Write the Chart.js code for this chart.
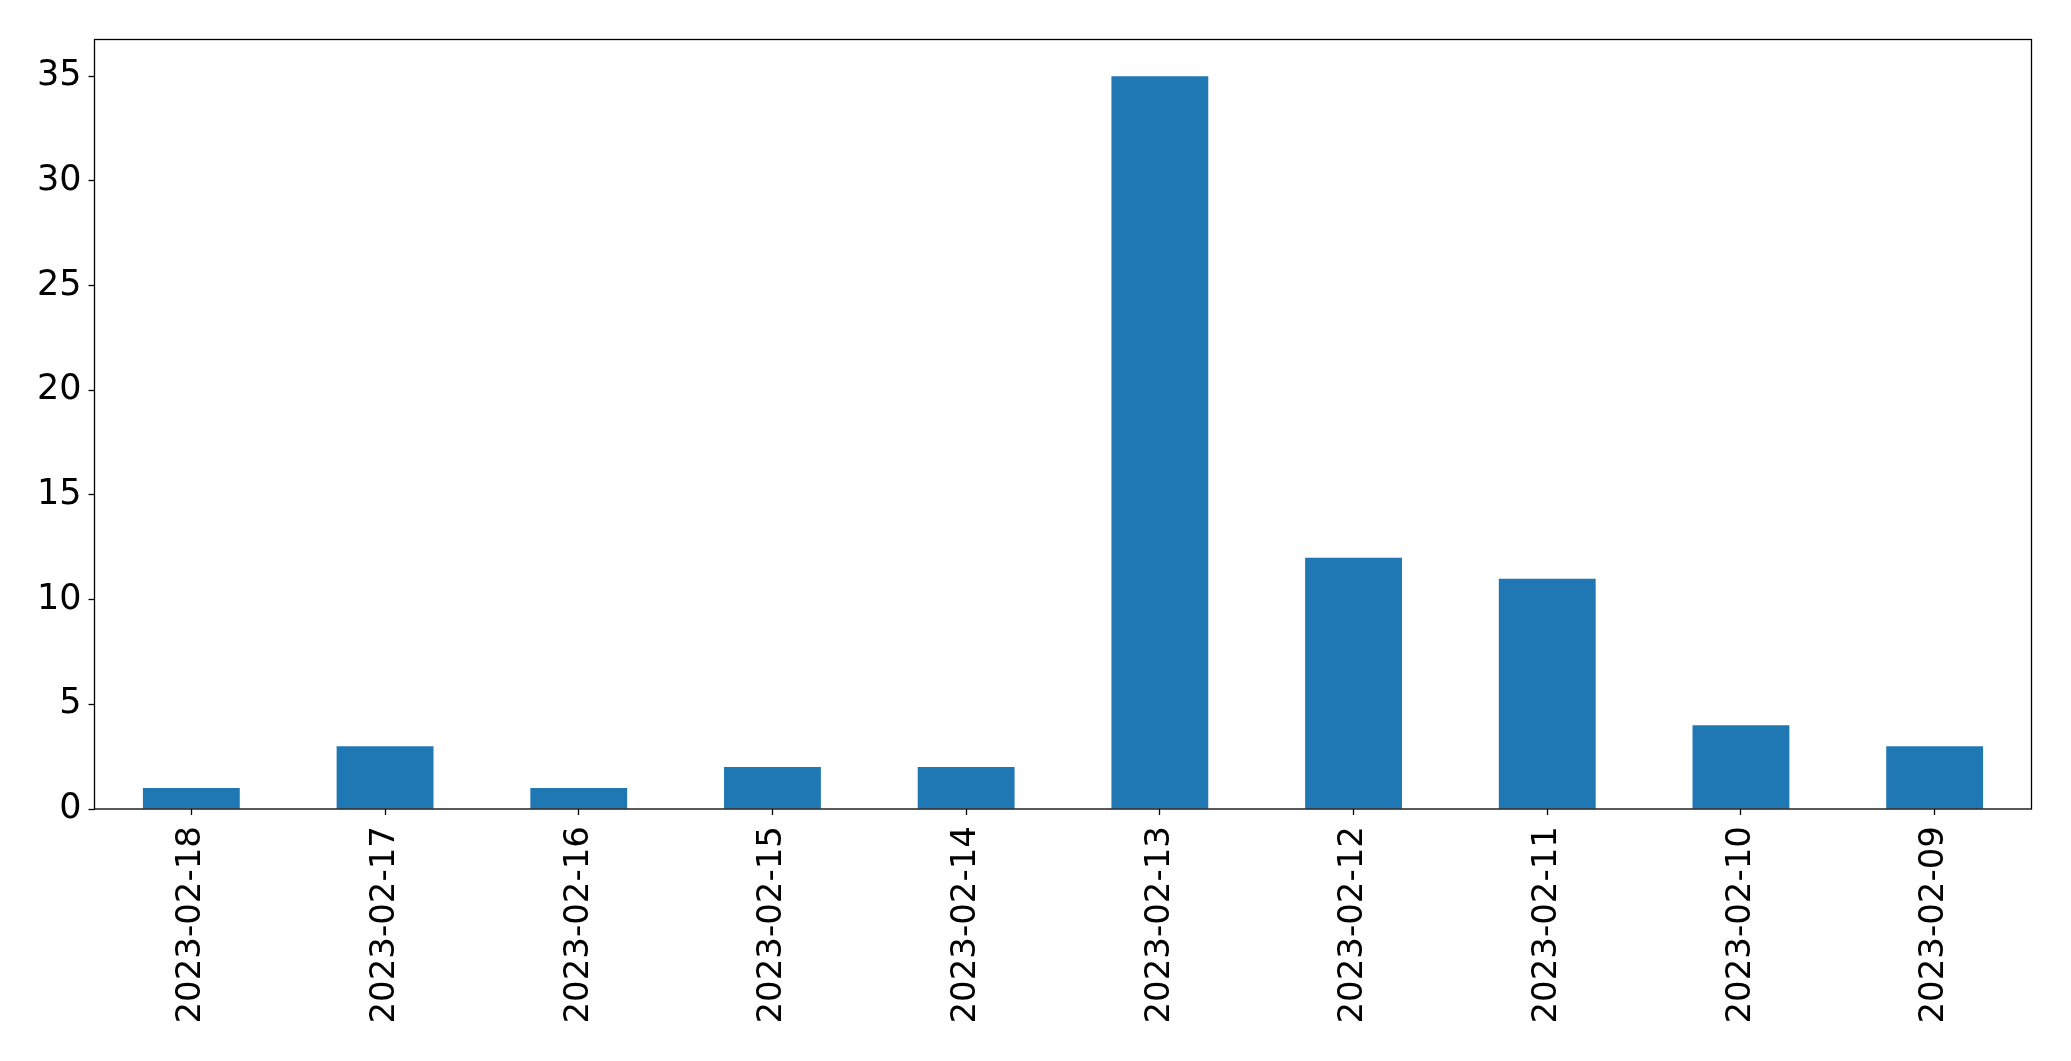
<!DOCTYPE html>
<html>
<head>
<meta charset="utf-8">
<script src="https://cdn.jsdelivr.net/npm/chart.js@4/dist/chart.umd.min.js"></script>
<style>
  html, body { margin: 0; padding: 0; background: #fff; }
  canvas { display: block; }
</style>
</head>
<body>
<canvas id="chart-area" width="2071" height="1061"></canvas>
<script>
"use strict";

const DATES = [
  "2023-02-18",
  "2023-02-17",
  "2023-02-16",
  "2023-02-15",
  "2023-02-14",
  "2023-02-13",
  "2023-02-12",
  "2023-02-11",
  "2023-02-10",
  "2023-02-09"
];

const COUNTS = [1, 3, 1, 2, 2, 35, 12, 11, 4, 3];

const Y_TICKS = [0, 5, 10, 15, 20, 25, 30, 35];

const FAMILY = "'DejaVu Sans', sans-serif";

// black frame round the plot area, like matplotlib's spines
const framePlugin = {
  id: "frame",
  afterDraw(chart) {
    const a = chart.chartArea;
    const ctx = chart.ctx;
    ctx.save();
    ctx.strokeStyle = "#000";
    ctx.lineWidth = 1.3;
    ctx.strokeRect(a.left, a.top, a.right - a.left, a.bottom - a.top);
    ctx.restore();
  }
};

const config = {
  type: "bar",
  data: {
    labels: DATES,
    datasets: [
      {
        data: COUNTS,
        backgroundColor: "#1f77b4",
        borderWidth: 0,
        categoryPercentage: 1.0,
        barPercentage: 0.5
      }
    ]
  },
  options: {
    responsive: false,
    animation: false,
    layout: {
      padding: { top: 39.5, right: 39.5, left: 0, bottom: 0 }
    },
    plugins: {
      legend: { display: false },
      title: { display: false },
      tooltip: { enabled: false }
    },
    scales: {
      x: {
        offset: true,
        grid: {
          display: true,
          drawOnChartArea: false,
          drawTicks: true,
          tickLength: 6,
          tickWidth: 1.3,
          color: "#000",
          offset: false
        },
        border: { display: false },
        ticks: {
          color: "#000",
          font: { family: FAMILY, size: 34 },
          minRotation: 90,
          maxRotation: 90,
          autoSkip: false,
          padding: 11
        },
        afterFit(scale) {
          scale.height = 252;
        }
      },
      y: {
        min: 0,
        max: 36.75,
        grid: {
          display: true,
          drawOnChartArea: false,
          drawTicks: true,
          tickLength: 6,
          tickWidth: 1.3,
          color: "#000"
        },
        border: { display: false },
        ticks: {
          color: "#000",
          font: { family: FAMILY, size: 35 },
          padding: 7
        },
        afterBuildTicks(scale) {
          scale.ticks = Y_TICKS.map(v => ({ value: v }));
        },
        afterFit(scale) {
          scale.width = 94.5;
        }
      }
    }
  },
  plugins: [framePlugin]
};

window.onload = function() {
  const ctx = document.getElementById("chart-area").getContext("2d");
  window.myBar = new Chart(ctx, config);
};
</script>
</body>
</html>
